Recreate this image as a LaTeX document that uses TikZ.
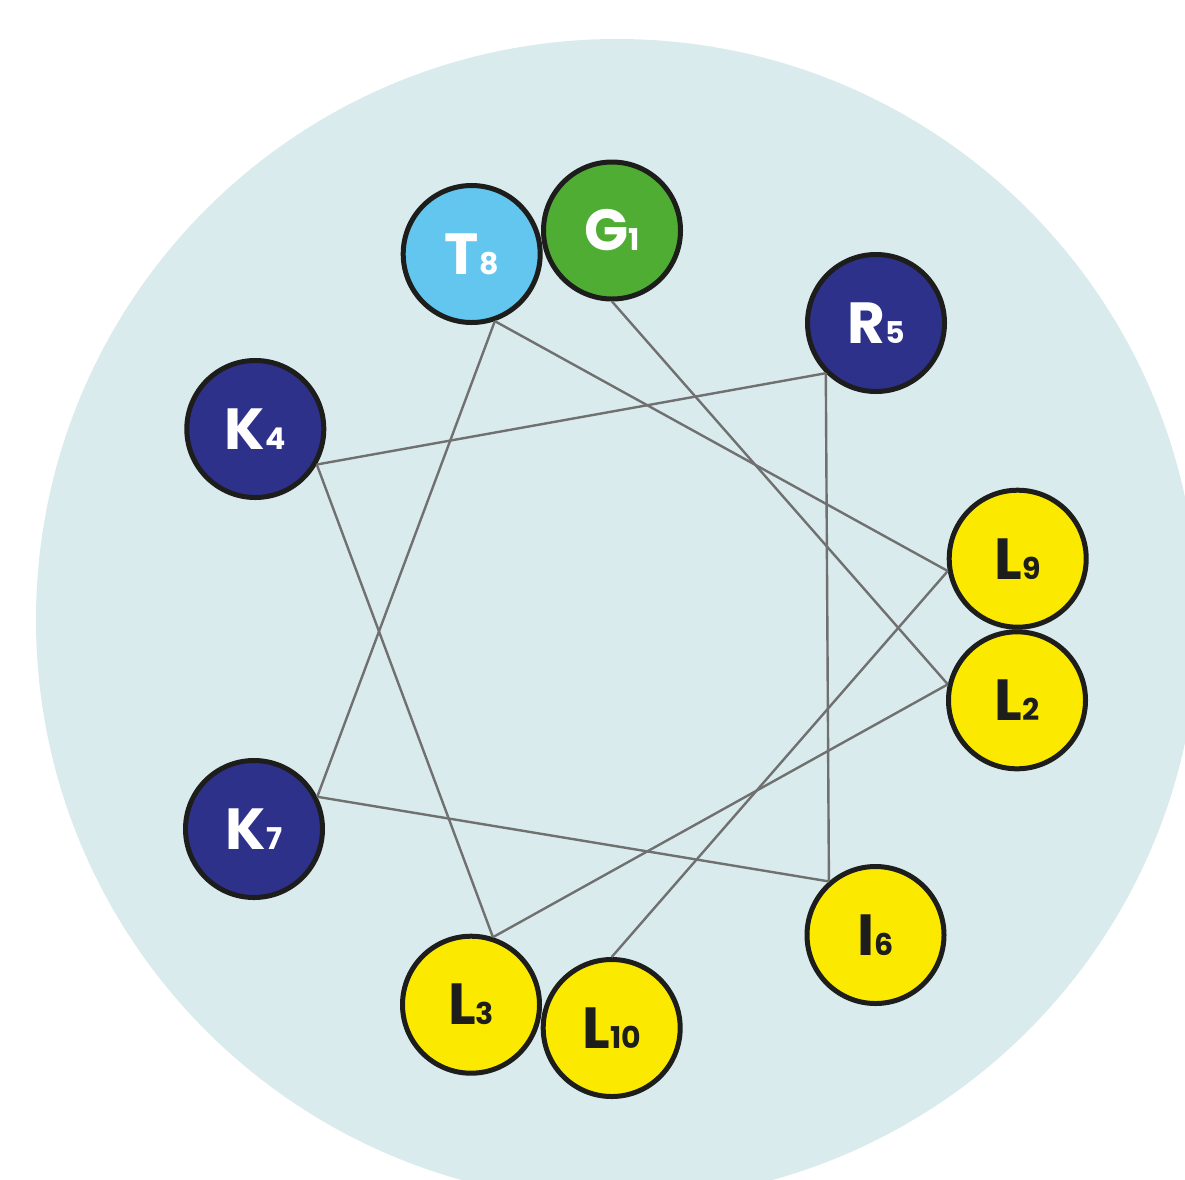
\documentclass[tikz,border=0pt]{standalone}
\usepackage{fontspec}
\setmainfont{Poppins}
\definecolor{bgc}{HTML}{DAEBED}
\definecolor{navy}{HTML}{2D3189}
\definecolor{grn}{HTML}{4FAD34}
\definecolor{lblue}{HTML}{62C6EE}
\definecolor{ylw}{HTML}{FCE900}
\definecolor{ink}{HTML}{1D1D1B}
\definecolor{conncol}{HTML}{707070}
\newcommand\resid[2]{#1{\fontsize{30}{30}\selectfont #2}}
\begin{document}
\begin{tikzpicture}[x=1pt,y=-1pt,
  res/.style={circle, draw=ink, line width=5pt, minimum size=137pt, inner sep=0pt,
    font=\fontsize{58}{58}\selectfont\bfseries},
  hydro/.style={res, fill=ylw, text=ink},
  charged/.style={res, fill=navy, text=white},
  conn/.style={draw=conncol, line width=2.4pt}]
\useasboundingbox (0,0) rectangle (1185,1179);
\begin{scope}
\clip (0,0) rectangle (1185,1179);
\fill[bgc] (617,620) circle[radius=581];
\end{scope}
\node[res, fill=grn, text=white] (G1) at (612,230.5) {\resid{G}{1}};
\node[res, fill=lblue, text=white] (T8) at (471.7,254) {\resid{T}{8}};
\node[charged] (R5) at (876,323) {\resid{R}{5}};
\node[charged] (K4) at (255.3,429) {\resid{K}{4}};
\node[hydro] (L9) at (1017.7,558.7) {\resid{L}{9}};
\node[hydro] (L2) at (1017,700.3) {\resid{L}{2}};
\node[charged] (K7) at (254,829) {\resid{K}{7}};
\node[hydro] (I6) at (875.5,935) {\resid{I}{6}};
\node[hydro] (L3) at (471,1004.7) {\resid{L}{3}};
\node[hydro] (L10) at (611.7,1028) {\resid{L}{10}};
\draw[conn] (G1.270) -- (L2.167);
\draw[conn] (L2.167) -- (L3.72);
\draw[conn] (L3.72) -- (K4.330);
\draw[conn] (K4.330) -- (R5.225);
\draw[conn] (R5.225) -- (I6.131);
\draw[conn] (I6.131) -- (K7.27);
\draw[conn] (K7.27) -- (T8.289);
\draw[conn] (T8.289) -- (L9.190);
\draw[conn] (L9.190) -- (L10.90);
\end{tikzpicture}
\end{document}
